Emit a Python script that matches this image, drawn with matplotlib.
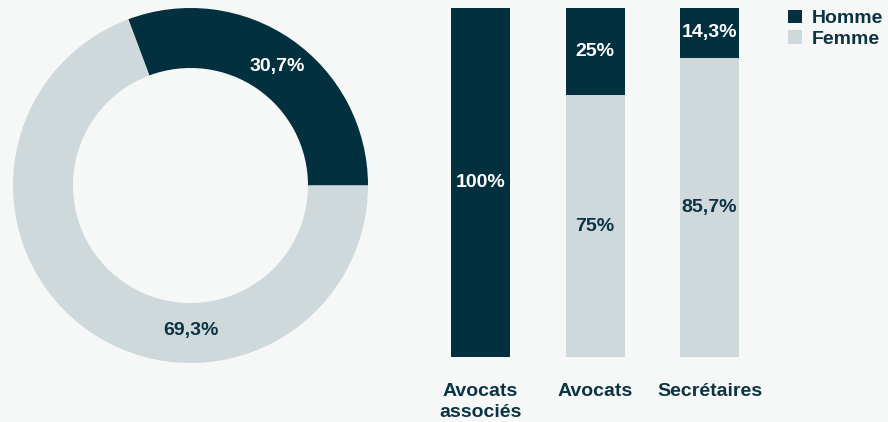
import matplotlib.pyplot as plt
from matplotlib.patches import Patch

# donut: global share
donut_labels = ["Homme", "Femme"]
donut_values = [30.7, 69.3]
donut_text = ["30,7%", "69,3%"]

# stacked bars by role
categories = ["Avocats\nassociés", "Avocats", "Secrétaires"]
homme = [100, 25, 14.3]
femme = [0, 75, 85.7]
homme_text = ["100%", "25%", "14,3%"]
femme_text = ["", "75%", "85,7%"]

DARK = "#02303f"
LIGHT = "#cfd8db"
BG = "#f6f8f8"
TXT = "#0b3442"
FS = 14

plt.rcParams['font.family'] = ['Liberation Sans', 'DejaVu Sans']
plt.rcParams['font.weight'] = 'bold'

W, H = 888, 422
fig = plt.figure(figsize=(W / 100, H / 100), dpi=100)
fig.patch.set_facecolor(BG)

# donut axes, centred at (190.5, 185.5) px with outer radius 177.5 px
cx, cy, r = 190.5, 185.5, 177.5
half = 180
ax1 = fig.add_axes([(cx - half) / W, (H - cy - half) / H, 2 * half / W, 2 * half / H])
ax1.pie(donut_values, colors=[DARK, LIGHT], startangle=0, counterclock=True,
        radius=1, wedgeprops=dict(width=60 / r, linewidth=0))
ax1.set_xlim(-half / r, half / r)
ax1.set_ylim(-half / r, half / r)
ax1.set_aspect('equal')
ax1.axis('off')
ax1.text(86.5 / r, 118.5 / r, donut_text[0], color="white", fontsize=FS,
         fontweight='bold', ha='center', va='center')
ax1.text(0, -145 / r, donut_text[1], color=TXT, fontsize=FS,
         fontweight='bold', ha='center', va='center')

# bar axes
step = 114.5
left_px = 480.5 - 0.5 * step
ax2 = fig.add_axes([left_px / W, (H - 357) / H, 3 * step / W, 349 / H])
ax2.set_facecolor(BG)
x = range(len(categories))
ax2.bar(x, femme, width=59 / step, color=LIGHT, linewidth=0)
ax2.bar(x, homme, bottom=femme, width=59 / step, color=DARK, linewidth=0)
ax2.set_xlim(-0.5, 2.5)
ax2.set_ylim(0, 100)
for i in x:
    ax2.text(i, femme[i] + homme[i] / 2, homme_text[i], color="white", fontsize=FS,
             fontweight='bold', ha='center', va='center')
    if femme[i] > 0:
        ax2.text(i, femme[i] / 2, femme_text[i], color=TXT, fontsize=FS,
                 fontweight='bold', ha='center', va='center')
ax2.set_xticks(list(x))
ax2.set_xticklabels(categories, fontsize=FS, fontweight='bold', color=TXT,
                    linespacing=1.25, va='top')
ax2.tick_params(axis='x', length=0, pad=19)
ax2.set_yticks([])
for s in ax2.spines.values():
    s.set_visible(False)

handles = [Patch(facecolor=DARK, label=donut_labels[0]),
           Patch(facecolor=LIGHT, label=donut_labels[1])]
leg = fig.legend(handles=handles, loc='upper right', bbox_to_anchor=(1.006, 1.0),
                 frameon=False, fontsize=FS, handlelength=0.7, handleheight=0.7,
                 handletextpad=0.55, labelspacing=0.15, borderaxespad=0.1)
for t in leg.get_texts():
    t.set_color(TXT)
    t.set_fontweight('bold')

fig.savefig("out.png", dpi=100, facecolor=BG)
